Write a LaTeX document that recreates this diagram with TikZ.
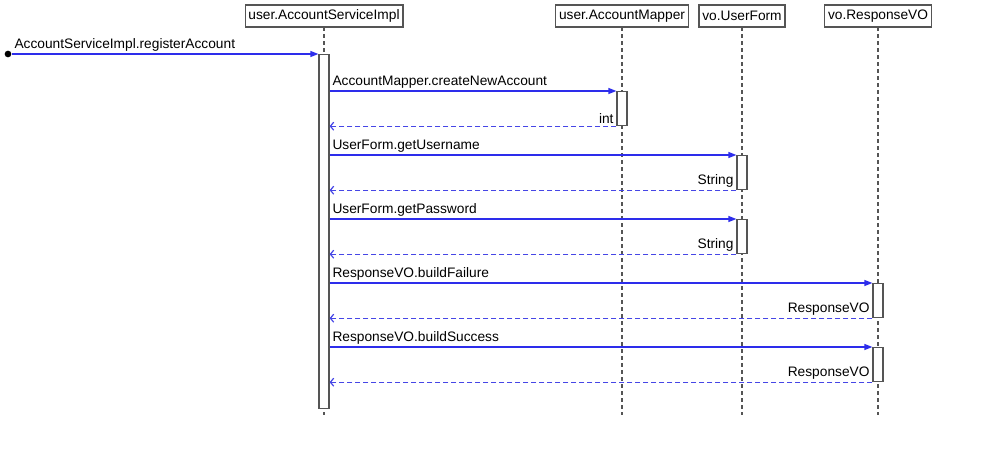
\documentclass[tikz,border=0pt]{standalone}
\usepackage{fontspec}
\setmainfont{Liberation Sans}
\usetikzlibrary{arrows.meta}

\definecolor{msgblue}{RGB}{45,45,235}
\definecolor{rtnblue}{RGB}{70,70,230}
\definecolor{boxgray}{RGB}{85,85,85}

\tikzset{every picture/.style={line width=0.75pt}}
\tikzset{
  headbox/.style={draw=boxgray, fill=white, line width=0.9pt, inner xsep=2.5pt, inner ysep=0pt,
    minimum height=16.5pt, font=\fontsize{10.3}{12}\selectfont},
  lifeline/.style={draw=boxgray, line width=0.9pt, dash pattern=on 3pt off 2.25pt},
  actbox/.style={draw=boxgray, fill=white, line width=0.9pt, minimum width=7.5pt, inner sep=0pt, anchor=north},
  callmsg/.style={draw=msgblue, line width=0.9pt, -{Triangle[length=6pt,width=4.5pt]}},
  rtnmsg/.style={draw=rtnblue, line width=0.9pt, dash pattern=on 3.75pt off 2.25pt, -{Straight Barb[length=2.5pt,width=6pt]}},
  msgtext/.style={font=\fontsize{10.3}{12}\selectfont, inner sep=1.5pt},
  startdot/.style={circle, fill=black, inner sep=0pt, minimum size=5pt}
}

\begin{document}
\begin{tikzpicture}[x=0.75pt,y=0.75pt,yscale=-1,xscale=1]
\path[use as bounding box] (0,0) rectangle (984,472);

% Lifelines
\coordinate (svcEnd) at (324,415);
\coordinate (mapEnd) at (622,415);
\coordinate (frmEnd) at (742,415);
\coordinate (rvoEnd) at (878,415);
\draw[lifeline] (324,27) -- (svcEnd);
\draw[lifeline] (622,27) -- (mapEnd);
\draw[lifeline] (742,27) -- (frmEnd);
\draw[lifeline] (878,27) -- (rvoEnd);

% Heads
\node[headbox] (svc) at (324,16) {user.AccountServiceImpl};
\node[headbox] (map) at (622,16) {user.AccountMapper};
\node[headbox] (frm) at (742,16) {vo.UserForm};
\node[headbox] (rvo) at (878,16) {vo.ResponseVO};

% Activations
\node[actbox, minimum height=265.5pt] (act0) at (324,54) {};
\node[actbox, minimum height=25.5pt] (act1) at (622,91) {};
\node[actbox, minimum height=25.5pt] (act2) at (742,155) {};
\node[actbox, minimum height=25.5pt] (act3) at (742,219) {};
\node[actbox, minimum height=25.5pt] (act4) at (878,283) {};
\node[actbox, minimum height=25.5pt] (act5) at (878,347) {};

% Entry message
\node[startdot] (start) at (8,54) {};
\draw[callmsg] (start) -- (act0.north west);
\node[msgtext, anchor=south west] (lbl0) at (12,54) {AccountServiceImpl.registerAccount};

% Calls
\draw[callmsg] (act0.east |- act1.north) -- (act1.north west);
\node[msgtext, anchor=south west] at (330,91) {AccountMapper.createNewAccount};
\draw[rtnmsg] (act1.south west) -- (act0.east |- act1.south);
\node[msgtext, anchor=south east] at (616,126) {int};

\draw[callmsg] (act0.east |- act2.north) -- (act2.north west);
\node[msgtext, anchor=south west] at (330,155) {UserForm.getUsername};
\draw[rtnmsg] (act2.south west) -- (act0.east |- act2.south);
\node[msgtext, anchor=south east] at (736,190) {String};

\draw[callmsg] (act0.east |- act3.north) -- (act3.north west);
\node[msgtext, anchor=south west] at (330,219) {UserForm.getPassword};
\draw[rtnmsg] (act3.south west) -- (act0.east |- act3.south);
\node[msgtext, anchor=south east] at (736,254) {String};

\draw[callmsg] (act0.east |- act4.north) -- (act4.north west);
\node[msgtext, anchor=south west] at (330,283) {ResponseVO.buildFailure};
\draw[rtnmsg] (act4.south west) -- (act0.east |- act4.south);
\node[msgtext, anchor=south east] at (872,318) {ResponseVO};

\draw[callmsg] (act0.east |- act5.north) -- (act5.north west);
\node[msgtext, anchor=south west] at (330,347) {ResponseVO.buildSuccess};
\draw[rtnmsg] (act5.south west) -- (act0.east |- act5.south);
\node[msgtext, anchor=south east] at (872,382) {ResponseVO};

\end{tikzpicture}
\end{document}
